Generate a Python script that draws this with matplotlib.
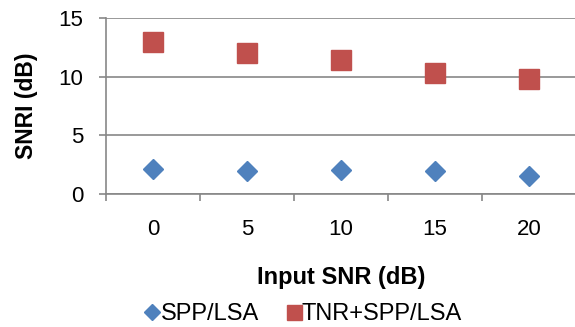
import matplotlib
matplotlib.use('Agg')
import matplotlib.pyplot as plt

plt.rcParams['font.family'] = ['Liberation Sans', 'DejaVu Sans']

snr_in = ['0', '5', '10', '15', '20']
spp_lsa = [2.1, 1.9, 2.0, 1.9, 1.5]
tnr_spp_lsa = [13.0, 12.0, 11.4, 10.3, 9.8]

GRID = '#878787'

fig = plt.figure(figsize=(5.75, 3.27), dpi=100)
ax = fig.add_axes([0.184, 0.408, 0.818, 0.536])

x = list(range(len(snr_in)))
ax.plot(x, spp_lsa, linestyle='none', marker='D', markersize=10.2,
        color='#4F81BD', label='SPP/LSA')
ax.plot(x, tnr_spp_lsa, linestyle='none', marker='s', markersize=14.4,
        color='#C0504D', label='TNR+SPP/LSA')

ax.set_ylim(0, 15)
ax.set_yticks([0, 5, 10, 15])
ax.set_xlim(-0.5, len(snr_in) - 0.5)
ax.set_xticks(x)
ax.set_xticklabels(snr_in)
ax.set_xticks([i - 0.5 for i in range(len(snr_in) + 1)], minor=True)
ax.yaxis.grid(True, color=GRID, linewidth=1.2)
ax.set_axisbelow(True)

for s in ['top', 'right']:
    ax.spines[s].set_visible(False)
for s in ['left', 'bottom']:
    ax.spines[s].set_color(GRID)
    ax.spines[s].set_linewidth(1.2)

ax.tick_params(axis='x', which='major', length=0, pad=18.5, labelsize=16)
ax.tick_params(axis='x', which='minor', length=5, width=1.2, color=GRID)
ax.tick_params(axis='y', length=5, width=1.2, color=GRID, pad=11, labelsize=16)

ax.set_ylabel('SNRI (dB)', fontsize=16.5, fontweight='bold')
ax.yaxis.set_label_coords(-0.145, 0.5)
ax.set_xlabel('Input SNR (dB)', fontsize=17, fontweight='bold')
ax.xaxis.set_label_coords(0.5, -0.413)

fig.legend(loc='center', bbox_to_anchor=(0.529, 0.040), ncol=2, frameon=False,
           fontsize=17, handlelength=0.5, handletextpad=0.1, columnspacing=1.23,
           markerscale=0.75, borderaxespad=0)

fig.savefig('out.png', dpi=100)
